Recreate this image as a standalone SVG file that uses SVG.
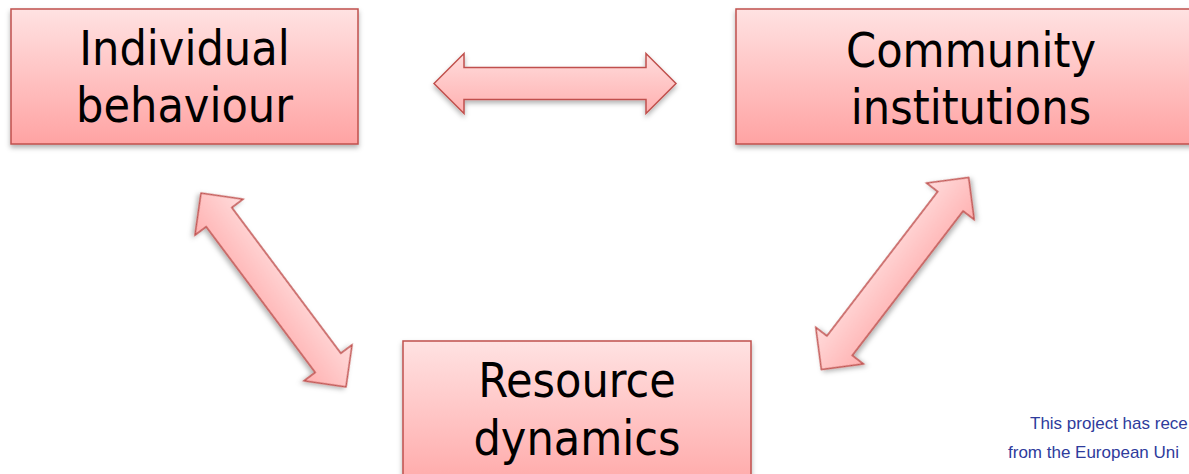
<svg xmlns="http://www.w3.org/2000/svg" width="1189" height="474" viewBox="0 0 1189 474">
<defs>
<linearGradient id="boxg" x1="0" y1="0" x2="0" y2="1">
<stop offset="0" stop-color="#ffe2e2"/>
<stop offset="1" stop-color="#ffa3a3"/>
</linearGradient>
<linearGradient id="arrg" x1="0" y1="0" x2="0" y2="1">
<stop offset="0" stop-color="#ffdcdc"/>
<stop offset="1" stop-color="#ffb0b0"/>
</linearGradient>
<filter id="sh" x="-20%" y="-20%" width="140%" height="150%">
<feDropShadow dx="0" dy="3" stdDeviation="2.5" flood-color="#000" flood-opacity="0.3"/>
</filter>
<path id="dbl" d="M-121,0 L-91,-30 L-91,-16 L91,-16 L91,-30 L121,0 L91,30 L91,16 L-91,16 L-91,30 Z"/>
</defs>
<style>
.box{fill:url(#boxg);stroke:#c0504d;stroke-width:1.5;filter:url(#sh)}
.arr{fill:url(#arrg);stroke:#c0504d;stroke-width:1.5;stroke-linejoin:miter;filter:url(#sh)}
.lbl{font-family:"DejaVu Sans Condensed","DejaVu Sans",sans-serif;font-size:48px;fill:#000;text-anchor:middle}
.note{font-family:"Liberation Sans",Arial,sans-serif;font-size:17px;fill:#2e3b9c}
</style>
<rect width="1189" height="474" fill="#fff"/>
<g id="connectors">
<use href="#dbl" class="arr" transform="translate(555,83.5)"/>
<use href="#dbl" class="arr" transform="translate(273.5,290) rotate(53.2)"/>
<use href="#dbl" class="arr" transform="translate(895,273.5) rotate(-52.5)"/>
</g>
<g id="node-individual">
<rect class="box" x="11" y="9" width="347" height="135"/>
<text class="lbl" x="184.5" y="65">Individual</text>
<text class="lbl" x="184.5" y="122">behaviour</text>
</g>
<g id="node-community">
<rect class="box" x="736" y="9" width="480" height="135"/>
<text class="lbl" x="971" y="67">Community</text>
<text class="lbl" x="971" y="124">institutions</text>
</g>
<g id="node-resource">
<rect class="box" x="403" y="341" width="348" height="160"/>
<text class="lbl" x="577" y="397">Resource</text>
<text class="lbl" x="577" y="455">dynamics</text>
</g>
<g id="footer">
<text class="note" x="1030" y="429">This project has rece</text>
<text class="note" x="1008" y="458">from the European Uni</text>
</g>
</svg>
